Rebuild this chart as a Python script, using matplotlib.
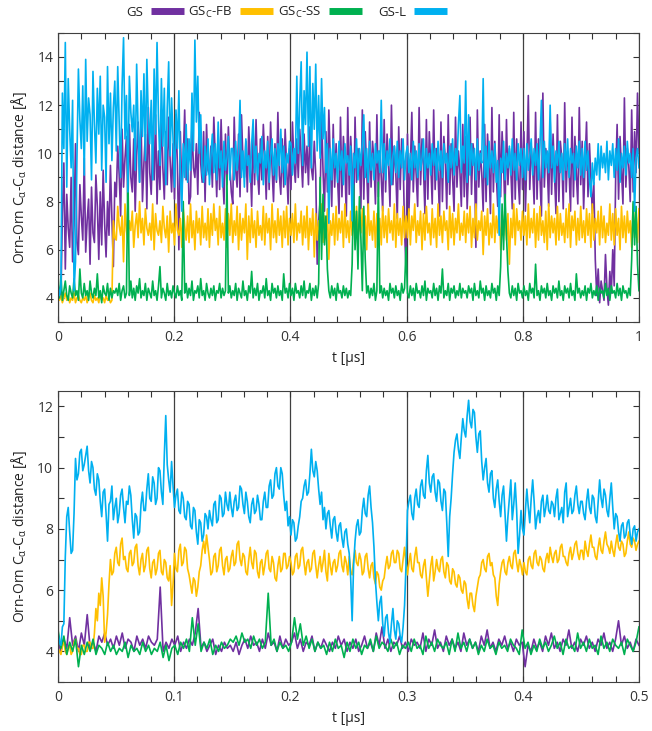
import numpy as np
import matplotlib
matplotlib.use("Agg")
import matplotlib.pyplot as plt
from matplotlib.lines import Line2D
from matplotlib.ticker import MultipleLocator, FormatStrFormatter

# Farben der vier Systeme
c_gs = '#7030A0'
c_fb = '#FFC000'
c_ss = '#00B050'
c_l = '#00B0F0'

labels = ['GS', r'GS$_\mathrm{C}$-FB', r'GS$_\mathrm{C}$-SS', 'GS-L']

# ---- oben: 0 .. 1 us (400 Punkte) ----
gs_top = [
    4.5, 4.2, 4.0, 7.5, 9.6, 5.2, 8.3, 6.9, 6.1, 9.0, 5.5, 7.0, 10.4, 6.3, 5.8, 8.7, 7.4, 6.4, 9.8, 5.9,
    7.2, 8.1, 5.4, 8.6, 6.7, 6.3, 9.1, 7.8, 5.6, 8.4, 6.2, 9.3, 7.1, 5.7, 8.0, 6.6, 9.5, 7.3, 5.3, 8.8,
    8.2, 10.3, 9.1, 7.4, 11.0, 8.6, 9.8, 10.7, 7.8, 11.2, 9.0, 8.4, 10.6, 7.6, 9.9, 11.3, 8.8, 11.4, 8.0, 9.6,
    10.8, 7.7, 11.9, 9.2, 8.3, 10.5, 8.9, 11.6, 7.9, 10.1, 8.5, 11.8, 9.4, 8.1, 10.9, 8.7, 11.5, 9.7, 8.4, 10.4,
    8.1, 11.6, 9.5, 6.0, 10.9, 8.4, 9.7, 11.8, 8.9, 10.6, 7.9, 8.2, 11.3, 9.4, 9.0, 10.4, 8.3, 11.7, 9.6, 8.8,
    10.9, 8.0, 11.2, 9.3, 9.1, 10.3, 8.6, 11.5, 9.8, 8.2, 10.7, 8.5, 11.4, 9.2, 7.9, 10.8, 8.7, 11.1, 9.5, 8.4,
    7.9, 11.5, 9.3, 8.6, 10.8, 8.2, 11.6, 9.7, 9.0, 10.5, 8.4, 11.1, 9.6, 7.8, 10.9, 8.7, 11.4, 9.2, 8.3, 10.6,
    8.9, 11.2, 9.8, 8.1, 10.7, 8.5, 11.3, 9.4, 8.0, 10.4, 8.8, 11.7, 9.1, 8.3, 10.6, 8.6, 11.0, 9.5, 7.9, 10.2,
    8.5, 11.3, 9.6, 8.8, 10.6, 9.0, 11.0, 9.9, 8.6, 10.8, 9.2, 10.3, 8.7, 11.1, 9.4, 8.9, 10.5, 9.1, 5.4, 7.2,
    8.0, 11.7, 9.3, 7.6, 10.9, 8.4, 11.8, 9.7, 7.8, 11.2, 8.6, 10.4, 9.0, 7.5, 11.5, 8.2, 10.7, 9.6, 7.4, 11.9,
    8.3, 10.7, 9.4, 7.0, 11.5, 8.8, 10.2, 9.8, 7.7, 11.8, 8.1, 10.9, 9.3, 7.5, 11.3, 8.6, 10.5, 9.7, 7.9, 11.6,
    8.2, 10.1, 9.0, 7.6, 11.4, 8.4, 10.8, 9.5, 7.8, 12.0, 8.7, 10.3, 9.2, 7.3, 11.1, 8.5, 10.6, 9.9, 6.8, 5.2,
    10.8, 7.6, 9.5, 11.7, 8.4, 10.3, 9.1, 7.8, 11.9, 8.7, 10.6, 9.4, 7.5, 11.4, 8.1, 10.9, 9.6, 7.9, 11.8, 8.5,
    10.2, 9.2, 7.4, 11.3, 8.0, 10.7, 9.7, 7.7, 11.6, 8.3, 10.4, 9.0, 7.6, 11.5, 8.6, 10.1, 9.3, 7.8, 11.2, 8.2,
    10.7, 7.7, 9.4, 11.5, 8.3, 10.4, 9.8, 6.1, 11.8, 8.6, 10.1, 9.2, 7.6, 11.2, 8.0, 10.8, 9.5, 7.5, 11.9, 8.4,
    10.5, 9.1, 7.8, 11.6, 8.2, 10.9, 9.6, 7.4, 11.4, 8.7, 10.2, 9.3, 7.7, 11.7, 8.1, 10.6, 9.0, 7.9, 11.3, 8.5,
    10.9, 7.6, 9.7, 12.4, 8.5, 10.3, 9.4, 7.9, 11.7, 8.1, 10.6, 9.0, 7.4, 12.5, 8.6, 10.2, 9.5, 7.8, 11.4, 8.3,
    10.8, 9.2, 7.5, 11.6, 8.0, 10.5, 9.8, 7.7, 12.1, 8.4, 10.1, 9.3, 7.6, 11.5, 8.2, 10.7, 9.1, 7.9, 11.9, 8.7,
    10.5, 7.7, 9.6, 11.3, 8.2, 10.4, 9.0, 7.5, 8.8, 5.6, 4.1, 5.2, 3.8, 4.7, 4.3, 3.9, 5.8, 4.4, 3.7, 5.1,
    4.2, 6.0, 4.5, 9.0, 11.2, 8.1, 10.7, 9.3, 7.9, 12.3, 8.6, 10.2, 9.5, 8.0, 11.8, 8.4, 10.9, 9.2, 12.5, 10.0,
]
fb_top = [
    4.0, 3.9, 4.1, 3.8, 4.0, 4.2, 3.9, 4.1, 3.8, 4.0, 3.9, 4.2, 3.8, 4.0, 4.1, 3.9, 3.8, 4.0, 3.9, 4.1,
    3.8, 4.0, 4.2, 3.9, 3.8, 4.1, 3.9, 4.0, 3.8, 4.2, 3.9, 4.0, 3.8, 4.1, 3.9, 4.0, 3.8, 3.9, 7.2, 6.5,
    6.4, 7.8, 7.0, 6.6, 7.4, 5.5, 7.9, 6.8, 6.3, 7.2, 6.8, 7.6, 6.1, 7.0, 7.5, 6.5, 8.0, 6.7, 7.3, 6.2,
    7.7, 6.9, 6.6, 7.1, 6.4, 7.9, 6.0, 7.5, 6.8, 6.6, 7.2, 6.3, 7.8, 6.9, 6.5, 7.4, 5.9, 7.6, 6.7, 7.1,
    6.2, 7.9, 6.8, 6.6, 7.3, 6.1, 7.7, 7.0, 6.4, 7.4, 6.3, 7.9, 6.5, 7.2, 6.0, 7.6, 6.7, 7.3, 6.2, 7.8,
    6.5, 7.1, 6.4, 7.7, 6.1, 7.5, 6.6, 7.9, 6.8, 7.3, 6.2, 7.8, 6.5, 7.1, 6.4, 7.7, 6.1, 7.5, 6.6, 7.9,
    6.3, 7.2, 6.6, 7.8, 6.0, 7.5, 6.4, 7.3, 6.7, 7.9, 5.6, 7.4, 6.3, 7.7, 6.5, 7.2, 6.1, 7.6, 6.6, 7.0,
    6.4, 7.8, 6.2, 7.5, 6.7, 7.3, 6.0, 7.9, 6.5, 7.2, 6.3, 7.7, 6.6, 7.4, 6.1, 7.6, 6.5, 7.8, 6.2, 7.3,
    6.6, 7.5, 6.3, 7.9, 6.4, 7.1, 6.7, 7.6, 6.2, 7.4, 6.5, 7.8, 6.0, 7.3, 6.6, 7.7, 5.7, 7.5, 6.4, 7.2,
    6.7, 7.9, 6.3, 7.4, 6.5, 7.7, 5.6, 7.2, 6.6, 7.5, 6.2, 7.8, 6.4, 7.3, 6.7, 7.6, 6.1, 7.9, 6.5, 7.2,
    6.3, 7.6, 6.6, 7.4, 6.2, 7.8, 6.5, 7.1, 6.7, 7.7, 6.3, 7.4, 6.0, 7.9, 6.6, 7.2, 6.4, 7.6, 6.1, 7.5,
    6.6, 7.3, 6.2, 7.8, 6.5, 7.4, 6.3, 7.7, 6.7, 7.2, 6.4, 7.9, 6.1, 7.5, 6.6, 7.3, 6.2, 7.8, 6.5, 7.4,
    6.5, 7.7, 6.2, 7.4, 6.8, 7.9, 6.3, 7.2, 6.6, 7.6, 6.0, 7.5, 6.4, 7.8, 6.7, 7.1, 6.2, 7.7, 6.5, 7.3,
    6.1, 7.9, 6.6, 7.4, 6.3, 7.6, 6.8, 7.2, 6.0, 7.8, 6.5, 7.5, 6.2, 7.3, 6.7, 7.9, 6.4, 7.1, 6.6, 7.6,
    6.3, 7.5, 6.7, 7.8, 6.1, 7.3, 6.5, 7.9, 6.4, 7.2, 6.8, 7.6, 5.8, 7.4, 6.6, 7.7, 6.2, 7.1, 6.5, 7.9,
    6.3, 7.4, 6.7, 7.8, 6.0, 7.2, 6.6, 7.6, 6.4, 7.5, 5.4, 7.3, 6.5, 7.9, 6.2, 7.7, 6.8, 7.2, 6.4, 7.6,
    6.6, 7.4, 6.2, 7.9, 6.5, 7.3, 6.7, 7.7, 6.1, 7.5, 6.4, 7.8, 6.6, 7.2, 6.3, 7.6, 6.0, 7.9, 6.5, 7.4,
    6.7, 7.3, 6.2, 7.8, 6.4, 7.5, 6.6, 7.1, 6.3, 7.7, 6.5, 7.9, 6.1, 7.4, 6.8, 7.6, 6.2, 7.3, 6.4, 7.8,
    6.5, 7.2, 6.3, 7.7, 6.6, 7.5, 6.1, 7.9, 6.4, 7.3, 6.7, 7.6, 6.2, 7.8, 6.5, 7.4, 6.3, 7.1, 6.6, 7.9,
    6.4, 7.5, 6.2, 7.7, 6.6, 7.3, 6.0, 7.8, 6.5, 7.4, 6.3, 7.6, 6.7, 7.2, 6.1, 7.9, 6.5, 7.5, 6.3, 7.7,
]
ss_top = [
    4.6, 4.0, 4.9, 3.9, 4.3, 4.7, 4.1, 3.9, 4.5, 4.2, 4.0, 4.8, 4.1, 4.3, 3.9, 5.2, 4.2, 4.0, 4.6, 4.1,
    4.3, 3.9, 4.7, 4.2, 4.0, 4.4, 4.1, 5.0, 4.0, 4.3, 3.8, 4.5, 4.2, 4.1, 4.6, 3.9, 4.4, 4.0, 4.3, 4.2,
    4.4, 4.1, 4.6, 3.9, 4.3, 4.5, 4.0, 4.2, 9.3, 4.1, 4.7, 4.0, 4.4, 3.9, 4.5, 4.2, 4.8, 4.0, 4.3, 4.1,
    4.6, 3.9, 4.4, 4.2, 4.0, 4.7, 4.1, 4.3, 3.9, 4.5, 5.3, 4.0, 4.4, 4.2, 3.9, 4.6, 4.1, 4.3, 4.0, 4.5,
    4.2, 4.0, 4.5, 4.1, 4.3, 3.9, 8.0, 4.2, 4.6, 4.0, 4.4, 4.1, 4.7, 3.9, 4.3, 4.2, 4.5, 4.0, 4.8, 4.1,
    4.3, 3.9, 4.6, 4.2, 4.0, 4.4, 4.1, 4.5, 3.9, 4.3, 4.2, 4.6, 4.0, 4.4, 4.1, 4.3, 9.1, 4.2, 4.5, 4.0,
    4.3, 4.1, 4.6, 3.9, 4.4, 4.2, 4.0, 4.7, 4.1, 4.3, 3.9, 4.5, 4.2, 5.1, 4.0, 4.4, 4.1, 4.6, 3.9, 4.3,
    4.2, 4.5, 4.0, 4.8, 4.1, 4.3, 3.9, 4.6, 4.2, 4.4, 4.0, 4.5, 4.1, 4.3, 3.9, 5.0, 4.2, 4.4, 4.0, 4.6,
    4.1, 4.4, 3.9, 4.6, 4.2, 4.3, 4.0, 4.5, 4.1, 4.7, 4.0, 4.3, 4.2, 4.6, 3.9, 4.4, 4.1, 4.5, 4.0, 4.6,
    9.0, 5.6, 8.3, 6.2, 7.4, 5.2, 4.3, 4.0, 4.5, 4.1, 4.4, 3.9, 4.6, 4.2, 4.3, 4.0, 4.5, 4.1, 4.4, 4.0,
    4.3, 4.1, 5.4, 8.7, 6.0, 7.6, 5.2, 8.2, 6.5, 4.3, 7.8, 5.6, 4.2, 4.5, 4.0, 4.4, 4.1, 4.6, 3.9, 4.3,
    8.8, 4.2, 4.5, 4.0, 4.4, 4.1, 4.3, 3.9, 4.6, 4.2, 4.4, 4.0, 4.5, 4.1, 4.3, 3.9, 4.6, 4.2, 4.4, 6.1,
    4.2, 4.0, 4.5, 4.1, 4.4, 3.9, 4.6, 4.2, 4.3, 4.0, 4.5, 4.1, 4.7, 3.9, 4.4, 4.2, 4.3, 4.0, 4.6, 4.1,
    4.4, 3.9, 4.5, 4.2, 5.2, 4.0, 4.3, 4.1, 4.6, 3.9, 4.4, 4.2, 4.5, 4.0, 4.3, 4.1, 4.6, 4.0, 4.4, 4.2,
    4.3, 4.0, 4.5, 4.2, 4.4, 3.9, 4.6, 4.1, 4.3, 4.0, 4.7, 4.2, 4.4, 3.9, 4.5, 4.1, 4.3, 4.0, 4.6, 4.2,
    4.4, 3.9, 4.5, 4.1, 5.3, 7.9, 6.0, 8.3, 6.6, 5.1, 4.2, 4.0, 4.5, 4.1, 4.4, 3.9, 4.6, 4.2, 4.3, 4.0,
    4.5, 4.1, 4.3, 3.9, 4.6, 4.2, 4.4, 4.0, 5.4, 4.1, 4.3, 3.9, 4.5, 4.2, 4.4, 4.0, 4.6, 4.1, 4.3, 3.9,
    4.5, 4.2, 4.4, 4.0, 4.7, 4.1, 4.3, 3.9, 4.5, 4.2, 4.4, 4.0, 4.6, 4.1, 4.3, 3.9, 5.0, 4.2, 4.4, 4.0,
    4.3, 4.1, 4.5, 3.9, 4.4, 4.2, 4.6, 4.0, 4.3, 4.1, 4.5, 3.9, 4.4, 4.2, 4.3, 4.0, 4.6, 4.1, 4.4, 3.9,
    4.5, 4.2, 4.3, 4.0, 4.6, 4.1, 4.4, 3.9, 4.5, 4.2, 4.3, 4.0, 4.4, 4.1, 5.6, 8.0, 6.2, 7.8, 5.4, 4.3,
]
l_top = [
    4.6, 4.1, 4.4, 12.5, 10.2, 14.6, 8.6, 13.1, 11.0, 9.4, 12.2, 4.3, 5.5, 9.8, 13.5, 11.4, 10.2, 12.8, 9.1, 13.9,
    10.5, 12.3, 11.6, 8.9, 13.4, 11.2, 9.6, 12.7, 10.8, 13.2, 9.3, 12.0, 11.5, 8.8, 13.6, 10.4, 12.5, 9.7, 11.9, 13.0,
    10.1, 13.6, 11.3, 9.0, 12.8, 14.8, 10.6, 12.4, 8.4, 13.2, 11.7, 10.9, 12.0, 9.3, 13.7, 11.0, 8.8, 12.6, 10.7, 13.3,
    9.7, 13.9, 11.5, 10.4, 12.2, 8.9, 13.5, 10.8, 14.6, 11.4, 9.5, 13.1, 10.3, 12.7, 8.7, 11.9, 13.8, 9.9, 12.3, 10.6,
    8.6, 11.8, 10.2, 12.6, 9.2, 7.6, 10.4, 9.0, 11.2, 8.8, 10.6, 9.3, 12.5, 10.1, 14.7, 11.3, 13.2, 10.0, 11.6, 9.2,
    8.8, 10.3, 9.1, 10.6, 8.7, 9.9, 10.8, 9.2, 10.4, 8.9, 11.3, 9.4, 10.1, 8.6, 10.5, 9.3, 9.8, 10.7, 8.9, 10.2,
    10.2, 8.9, 10.5, 9.3, 10.0, 12.2, 9.0, 10.1, 8.6, 10.6, 9.5, 9.9, 8.8, 10.4, 11.4, 9.2, 10.3, 8.9, 10.0, 9.6,
    10.7, 8.7, 10.1, 9.4, 10.5, 8.8, 9.9, 10.6, 9.1, 10.2, 8.9, 10.4, 9.5, 11.0, 9.2, 10.3, 8.7, 10.0, 9.6, 10.5,
    10.4, 9.1, 10.2, 9.6, 13.2, 10.0, 12.1, 13.8, 9.5, 12.6, 11.2, 14.2, 10.3, 13.6, 9.4, 12.9, 11.0, 13.7, 10.1, 12.4,
    9.8, 13.1, 10.6, 11.9, 9.2, 10.4, 7.1, 10.2, 8.9, 10.6, 9.4, 10.0, 8.8, 10.5, 9.3, 10.1, 8.7, 10.4, 9.6, 9.9,
    9.1, 10.3, 7.2, 10.0, 9.4, 10.6, 8.9, 10.2, 9.5, 10.4, 11.6, 9.0, 10.2, 8.8, 10.5, 9.3, 10.0, 8.9, 10.4, 9.6,
    10.1, 9.2, 12.2, 9.2, 10.4, 8.9, 10.1, 9.5, 10.6, 8.7, 9.9, 10.3, 9.2, 10.5, 9.0, 10.1, 9.4, 10.6, 8.9, 10.0,
    10.3, 9.2, 10.0, 8.9, 10.5, 9.4, 10.1, 9.0, 10.4, 9.3, 9.8, 10.6, 8.9, 10.2, 9.4, 10.0, 9.1, 10.4, 9.5, 10.2,
    8.9, 10.5, 9.3, 10.1, 9.0, 10.4, 9.6, 10.0, 8.8, 10.3, 9.4, 10.6, 9.1, 10.2, 9.5, 11.2, 12.4, 9.2, 10.3, 9.6,
    13.0, 8.8, 11.6, 9.1, 10.4, 9.5, 10.2, 8.9, 10.6, 9.3, 10.0, 9.6, 13.1, 9.0, 10.3, 8.7, 10.5, 9.4, 10.1, 9.2,
    10.4, 8.8, 9.7, 6.6, 9.8, 9.2, 10.5, 8.9, 10.0, 9.4, 10.3, 9.1, 10.6, 9.3, 10.0, 8.9, 10.4, 9.5, 10.2, 9.0,
    10.2, 8.9, 10.4, 9.3, 9.9, 10.6, 9.1, 10.2, 9.5, 10.4, 8.9, 10.3, 12.2, 9.0, 10.5, 9.4, 10.1, 9.2, 12.0, 9.4,
    10.3, 8.8, 10.1, 9.5, 10.5, 9.2, 10.0, 8.9, 10.4, 9.3, 10.6, 9.0, 10.2, 9.6, 10.0, 8.9, 10.3, 9.4, 10.5, 9.1,
    10.2, 9.0, 10.5, 9.3, 10.1, 8.9, 8.2, 9.6, 8.7, 9.8, 9.1, 10.4, 8.9, 10.3, 9.4, 10.0, 9.2, 10.5, 8.9, 10.1,
    9.5, 10.4, 9.0, 10.2, 9.3, 10.6, 8.8, 10.0, 9.4, 10.3, 9.1, 10.5, 9.6, 10.0, 9.0, 10.2, 7.6, 9.8, 10.2, 9.4,
]

# ---- unten: 0 .. 0.5 us (GS, GS_C-SS: 200 Punkte; GS_C-FB, GS-L: 400 Punkte) ----
gs_bot = [
    4.3, 4.0, 4.4, 4.1, 5.1, 4.2, 4.5, 4.0, 4.6, 4.2, 5.2, 4.1, 4.3, 4.0, 4.5, 4.3, 4.6, 4.2, 4.4, 4.1,
    4.5, 4.2, 4.6, 4.1, 4.4, 4.3, 4.0, 4.5, 4.2, 4.4, 4.1, 4.5, 4.3, 4.2, 4.4, 6.1, 4.0, 4.3, 4.1, 4.4,
    4.2, 4.5, 4.0, 4.3, 4.1, 4.4, 4.2, 4.6, 5.4, 4.1, 4.3, 4.0, 4.2, 4.4, 3.9, 4.2, 4.0, 4.3, 4.1, 4.2,
    4.0, 4.3, 3.9, 4.2, 4.4, 4.1, 4.5, 4.2, 4.3, 4.0, 4.4, 4.1, 4.6, 4.2, 4.3, 4.0, 4.5, 4.1, 4.4, 4.2,
    4.3, 4.6, 4.1, 4.4, 4.0, 4.3, 4.2, 4.5, 4.0, 4.3, 4.1, 4.4, 4.2, 4.0, 4.3, 4.1, 4.5, 4.2, 4.4, 4.0,
    4.3, 4.1, 4.4, 4.0, 4.2, 4.5, 4.1, 4.3, 4.0, 4.6, 4.2, 4.8, 4.1, 4.4, 4.0, 4.3, 4.2, 4.5, 4.1, 4.3,
    4.0, 4.4, 4.2, 4.3, 4.1, 4.6, 4.0, 4.4, 4.2, 4.7, 4.1, 4.3, 4.0, 4.5, 4.2, 4.4, 4.1, 4.3, 4.0, 4.6,
    4.2, 4.4, 4.1, 4.3, 4.0, 4.5, 4.2, 4.7, 4.1, 4.3, 4.0, 4.4, 4.2, 4.5, 4.1, 4.3, 4.0, 4.4, 4.2, 4.3,
    3.5, 4.2, 4.0, 4.4, 4.1, 4.3, 4.0, 4.5, 4.2, 4.6, 4.1, 4.3, 4.0, 4.4, 4.2, 4.7, 4.1, 4.3, 4.0, 4.4,
    4.2, 4.5, 4.1, 4.3, 4.0, 4.4, 4.2, 4.6, 4.1, 4.3, 4.0, 4.4, 5.0, 4.2, 4.5, 4.1, 4.3, 4.0, 4.4, 4.2,
]
fb_bot = [
    4.1, 4.0, 3.9, 4.2, 4.3, 4.0, 3.9, 4.1, 4.2, 3.9, 4.0, 4.3, 4.4, 4.1, 4.1, 3.9, 3.9, 4.2, 4.2, 4.0,
    4.0, 4.3, 4.3, 4.1, 4.1, 4.6, 5.4, 5.0, 5.9, 5.5, 6.4, 5.8, 4.3, 4.6, 5.2, 6.2, 7.0, 6.5, 6.6, 7.2,
    7.4, 6.9, 6.8, 7.5, 7.7, 7.0, 7.1, 6.7, 6.6, 7.2, 7.3, 6.8, 6.9, 7.4, 7.5, 6.8, 6.5, 7.0, 7.2, 6.6,
    6.8, 7.3, 7.4, 6.7, 6.4, 6.9, 7.0, 6.5, 6.7, 7.2, 7.3, 6.6, 6.5, 7.0, 6.9, 6.4, 6.3, 6.8, 5.5, 6.2,
    7.2, 6.7, 6.6, 7.3, 7.5, 6.8, 6.9, 7.4, 7.3, 6.7, 6.5, 6.2, 5.9, 6.4, 6.3, 5.8, 6.1, 6.6, 6.8, 7.3,
    7.6, 7.2, 7.8, 7.4, 7.0, 6.5, 6.6, 7.1, 7.2, 6.6, 6.8, 7.3, 7.4, 6.8, 6.5, 7.0, 7.1, 6.6, 6.7, 7.1,
    7.3, 6.8, 6.9, 7.5, 7.6, 7.0, 6.8, 7.2, 7.1, 6.6, 6.5, 7.0, 7.4, 6.9, 6.7, 7.3, 7.2, 6.6, 6.4, 6.9,
    7.0, 6.5, 6.8, 7.2, 7.3, 6.7, 6.6, 7.1, 6.9, 6.4, 6.3, 6.8, 7.1, 6.6, 6.7, 7.2, 7.2, 6.7, 6.8, 7.1,
    6.9, 6.5, 6.6, 7.1, 7.2, 6.7, 6.8, 7.3, 7.4, 6.9, 6.5, 6.9, 7.0, 6.6, 6.7, 7.2, 7.3, 6.8, 6.4, 6.8,
    7.1, 6.6, 6.9, 7.3, 6.6, 6.3, 7.2, 6.8, 6.5, 6.9, 7.0, 6.6, 6.8, 7.2, 7.3, 6.8, 6.6, 7.1, 6.9, 6.5,
    7.1, 6.6, 6.5, 7.0, 7.3, 6.9, 6.8, 7.2, 7.0, 6.5, 6.6, 7.1, 7.2, 6.7, 6.4, 6.8, 6.9, 6.4, 6.2, 6.6,
    6.5, 6.1, 6.0, 6.3, 6.4, 6.8, 7.1, 6.7, 6.8, 7.2, 7.3, 6.9, 6.9, 7.3, 7.2, 6.7, 6.6, 7.0, 7.4, 6.9,
    6.5, 6.9, 7.2, 6.7, 6.6, 7.1, 7.4, 6.9, 6.9, 6.5, 6.4, 6.8, 7.0, 6.4, 5.8, 6.3, 6.8, 7.1, 6.3, 6.6,
    7.0, 6.7, 6.6, 7.0, 7.1, 6.6, 6.4, 6.9, 6.8, 6.3, 6.2, 6.7, 6.6, 6.2, 6.1, 6.5, 6.4, 6.0, 5.9, 6.3,
    6.2, 5.7, 5.4, 5.9, 5.9, 5.5, 5.3, 5.8, 6.1, 6.4, 6.5, 6.9, 7.0, 6.7, 6.6, 7.1, 7.2, 6.8, 6.9, 6.5,
    6.4, 5.8, 5.5, 6.2, 6.6, 6.9, 7.0, 6.6, 6.5, 6.9, 7.1, 6.8, 6.7, 7.2, 7.3, 6.9, 6.6, 7.0, 6.8, 6.5,
    6.9, 6.6, 6.5, 7.0, 7.1, 6.8, 6.7, 7.2, 7.3, 6.9, 6.8, 7.1, 7.0, 6.7, 6.6, 7.0, 7.2, 6.9, 7.4, 7.1,
    6.9, 7.2, 7.3, 6.9, 7.0, 7.4, 7.5, 7.1, 7.1, 6.9, 6.8, 7.2, 7.4, 7.0, 7.2, 7.5, 7.6, 7.2, 7.0, 7.3,
    7.3, 7.0, 7.6, 7.3, 7.1, 7.5, 7.8, 7.4, 7.4, 7.1, 7.0, 7.4, 7.7, 7.3, 7.2, 7.6, 7.9, 7.5, 7.4, 7.2,
    7.6, 7.3, 7.1, 7.5, 7.8, 7.4, 7.3, 7.6, 7.5, 7.1, 7.2, 7.6, 7.9, 7.5, 7.4, 7.7, 7.6, 7.3, 7.5, 7.6,
]
ss_bot = [
    4.7, 4.1, 4.5, 3.9, 4.3, 4.0, 4.4, 3.5, 4.2, 3.9, 4.3, 4.0, 4.4, 3.9, 4.2, 4.1, 3.9, 4.3, 4.0, 4.2,
    3.9, 4.1, 4.0, 4.3, 3.8, 4.2, 4.0, 4.1, 3.9, 4.3, 4.0, 4.2, 3.9, 4.1, 4.0, 4.3, 3.8, 4.2, 3.7, 4.1,
    4.2, 3.9, 4.3, 4.1, 4.4, 4.0, 5.1, 4.2, 4.9, 4.0, 4.3, 4.1, 4.4, 3.9, 4.2, 4.0, 4.3, 4.1, 4.2, 4.4,
    4.3, 4.5, 4.2, 4.6, 4.3, 4.4, 4.1, 4.5, 4.2, 4.4, 4.1, 4.3, 5.9, 4.2, 4.4, 4.0, 4.3, 4.1, 4.2, 4.0,
    4.3, 5.1, 4.4, 4.9, 4.2, 4.5, 4.1, 4.4, 4.0, 4.3, 4.1, 4.2, 3.9, 4.3, 4.0, 4.4, 4.1, 4.2, 3.8, 4.3,
    4.0, 4.4, 4.1, 4.3, 3.9, 4.2, 4.1, 4.4, 4.0, 4.5, 4.1, 4.3, 4.2, 4.0, 4.4, 4.1, 4.3, 3.9, 4.2, 4.1,
    4.3, 4.0, 4.4, 4.1, 4.2, 3.9, 4.5, 4.1, 4.3, 4.0, 4.4, 4.2, 4.1, 4.3, 3.9, 4.4, 4.0, 4.6, 4.1, 4.3,
    4.0, 4.4, 4.1, 4.3, 3.9, 4.2, 4.0, 4.4, 4.1, 4.2, 3.9, 4.3, 4.1, 4.2, 4.0, 4.4, 4.2, 4.1, 3.9, 4.7,
    4.1, 4.3, 3.9, 4.2, 4.0, 4.4, 4.1, 4.3, 4.0, 4.2, 4.5, 4.1, 4.3, 3.9, 4.4, 4.1, 4.2, 4.0, 4.6, 4.1,
    4.3, 4.0, 4.4, 4.1, 4.2, 3.9, 4.5, 4.1, 4.3, 4.0, 4.4, 4.2, 4.1, 4.3, 3.9, 4.4, 4.2, 4.0, 4.3, 4.8,
]
l_bot = [
    4.6, 4.3, 4.2, 4.8, 4.9, 7.1, 8.4, 8.7, 7.9, 7.2, 7.3, 8.5, 10.3, 9.6, 9.8, 10.5, 10.6, 9.9, 10.1, 10.4,
    10.7, 9.9, 9.5, 10.2, 10.0, 9.3, 9.1, 9.8, 9.6, 8.9, 8.4, 9.2, 9.3, 8.5, 7.6, 8.8, 8.9, 9.4, 8.3, 8.7,
    9.0, 8.2, 8.5, 9.1, 9.3, 8.7, 8.2, 8.9, 8.8, 9.4, 9.1, 8.3, 7.7, 8.5, 8.4, 7.8, 7.9, 8.8, 9.2, 8.6,
    8.6, 9.3, 9.8, 9.0, 8.9, 9.7, 9.5, 8.8, 9.0, 10.0, 9.9, 9.2, 8.8, 10.4, 11.7, 10.1, 9.6, 9.2, 10.2, 9.4,
    8.7, 9.1, 9.3, 8.6, 8.5, 9.2, 9.0, 8.4, 8.3, 8.9, 8.8, 8.1, 8.0, 8.7, 8.6, 7.9, 7.5, 8.3, 8.2, 7.6,
    7.8, 8.5, 8.4, 8.0, 8.6, 8.3, 8.1, 8.8, 8.9, 8.2, 8.3, 9.1, 9.0, 8.4, 8.5, 9.2, 8.8, 8.6, 9.2, 8.7,
    8.4, 8.9, 9.1, 8.6, 8.7, 9.4, 9.3, 8.8, 8.5, 9.2, 8.9, 8.4, 8.2, 8.8, 9.0, 8.5, 8.6, 9.1, 8.8, 8.3,
    8.3, 8.9, 9.2, 8.7, 8.7, 9.4, 9.6, 9.0, 9.1, 9.8, 10.0, 9.4, 9.3, 10.0, 9.8, 9.1, 8.6, 8.9, 8.1, 8.4,
    7.8, 8.3, 8.2, 7.6, 7.7, 8.1, 8.4, 8.9, 9.0, 9.4, 9.6, 9.1, 9.2, 9.8, 10.6, 9.9, 9.7, 10.2, 9.9, 9.3,
    8.8, 9.2, 8.3, 8.7, 8.0, 8.5, 8.6, 8.1, 7.7, 8.3, 8.4, 7.9, 7.6, 8.1, 8.2, 7.7, 7.4, 7.9, 8.0, 7.5,
    7.2, 6.4, 5.0, 6.8, 7.6, 8.1, 8.3, 7.8, 7.9, 8.6, 9.0, 8.5, 8.4, 9.1, 9.4, 8.7, 8.2, 7.4, 6.3, 5.6,
    5.0, 5.6, 5.8, 4.9, 4.5, 5.1, 5.2, 4.6, 4.3, 4.9, 5.4, 4.7, 4.4, 5.0, 4.9, 4.5, 4.3, 4.8, 5.5, 6.8,
    8.6, 8.9, 9.1, 8.5, 8.3, 9.0, 9.3, 8.8, 8.7, 9.4, 9.6, 9.1, 9.0, 9.9, 10.4, 9.5, 9.2, 9.7, 9.8, 9.2,
    8.9, 9.6, 9.5, 8.9, 8.6, 9.3, 9.2, 8.2, 7.1, 8.4, 9.0, 9.8, 10.5, 10.9, 11.1, 10.6, 10.3, 11.0, 11.6, 11.2,
    11.0, 11.7, 12.2, 11.5, 11.3, 11.9, 11.8, 11.0, 10.5, 11.1, 11.2, 10.2, 9.6, 10.0, 10.3, 9.5, 9.2, 9.8, 9.9, 9.0,
    8.7, 9.3, 9.6, 8.9, 8.4, 9.1, 9.4, 8.5, 7.6, 8.4, 9.0, 9.6, 8.3, 8.8, 9.5, 8.6, 7.2, 7.8, 8.6, 8.0,
    7.8, 8.6, 9.3, 8.7, 8.2, 9.0, 9.6, 8.9, 8.0, 8.4, 8.6, 8.2, 8.9, 9.1, 8.4, 8.7, 9.1, 8.6, 8.5, 8.9,
    8.8, 8.4, 9.0, 9.3, 8.3, 8.5, 8.7, 8.2, 9.2, 9.5, 8.4, 8.7, 9.0, 8.5, 8.6, 9.1, 9.4, 8.8, 8.5, 8.9,
    8.9, 8.5, 8.3, 8.9, 9.3, 8.7, 8.5, 9.1, 9.0, 8.4, 8.2, 8.9, 9.6, 9.0, 8.7, 9.3, 9.1, 8.6, 8.4, 9.0,
    9.5, 8.7, 8.0, 8.5, 8.4, 7.9, 7.6, 8.1, 8.2, 7.7, 7.8, 8.2, 8.3, 7.8, 7.5, 8.0, 8.1, 7.6, 7.9, 8.0,
]

plt.rcParams['font.family'] = 'Open Sans'
plt.rcParams['font.size'] = 10
plt.rcParams['mathtext.fontset'] = 'custom'
plt.rcParams['mathtext.rm'] = 'Open Sans'
plt.rcParams['mathtext.it'] = 'Open Sans:italic'

fig = plt.figure(figsize=(6.52, 7.31), dpi=100)
ax1 = fig.add_axes([0.089, 0.5595, 0.891, 0.3955])
ax2 = fig.add_axes([0.089, 0.067, 0.891, 0.398])

ylab = r'Orn-Orn C$_\mathrm{\alpha}$-C$_\mathrm{\alpha}$ distance [Å]'


def style(ax, xmax, xmaj, xmin, ymin, ymax):
    ax.set_xlim(0, xmax)
    ax.set_ylim(ymin, ymax)
    ax.xaxis.set_major_locator(MultipleLocator(xmaj))
    ax.xaxis.set_minor_locator(MultipleLocator(xmin))
    ax.yaxis.set_major_locator(MultipleLocator(2))
    ax.yaxis.set_minor_locator(MultipleLocator(1))
    ax.xaxis.set_major_formatter(FormatStrFormatter('%g'))
    ax.tick_params(which='both', direction='in', top=True, right=True,
                   length=4, width=0.8, labelsize=10, colors='#333333')
    ax.tick_params(axis='x', pad=6)
    ax.grid(True, axis='x', which='major', color='#404040', lw=0.9)
    for s in ax.spines.values():
        s.set_color('#404040')
    ax.set_xlabel('t [µs]', labelpad=4, color='#222222')
    ax.set_ylabel(ylab, color='#222222', labelpad=6)


def draw(ax, series, tmax, lw):
    # Reihenfolge wie im Original: GS, FB, SS, L (L liegt oben)
    for ys, col in zip(series, [c_gs, c_fb, c_ss, c_l]):
        t = np.linspace(0, tmax, len(ys))
        ax.plot(t, ys, color=col, lw=lw)


draw(ax1, [gs_top, fb_top, ss_top, l_top], 1.0, 1.2)
style(ax1, 1, 0.2, 0.04, 3, 15)

draw(ax2, [gs_bot, fb_bot, ss_bot, l_bot], 0.5, 1.2)
style(ax2, 0.5, 0.1, 0.02, 3, 12.5)

# Legende im gnuplot-Stil: Text rechtsbuendig, dann Linienmuster
W, H = 652.0, 731.0
text_right = [143, 232, 321, 406]
ly = 1 - 12 / H
for lab, col, xr in zip(labels, [c_gs, c_fb, c_ss, c_l], text_right):
    fig.text(xr / W, ly, lab, ha='right', va='center', fontsize=9.5, color='#222222')
    fig.add_artist(Line2D([(xr + 8) / W, (xr + 41) / W], [ly + 1 / H, ly + 1 / H],
                          transform=fig.transFigure, color=col, lw=5,
                          solid_capstyle='butt'))

fig.savefig('out.png', dpi=100)
